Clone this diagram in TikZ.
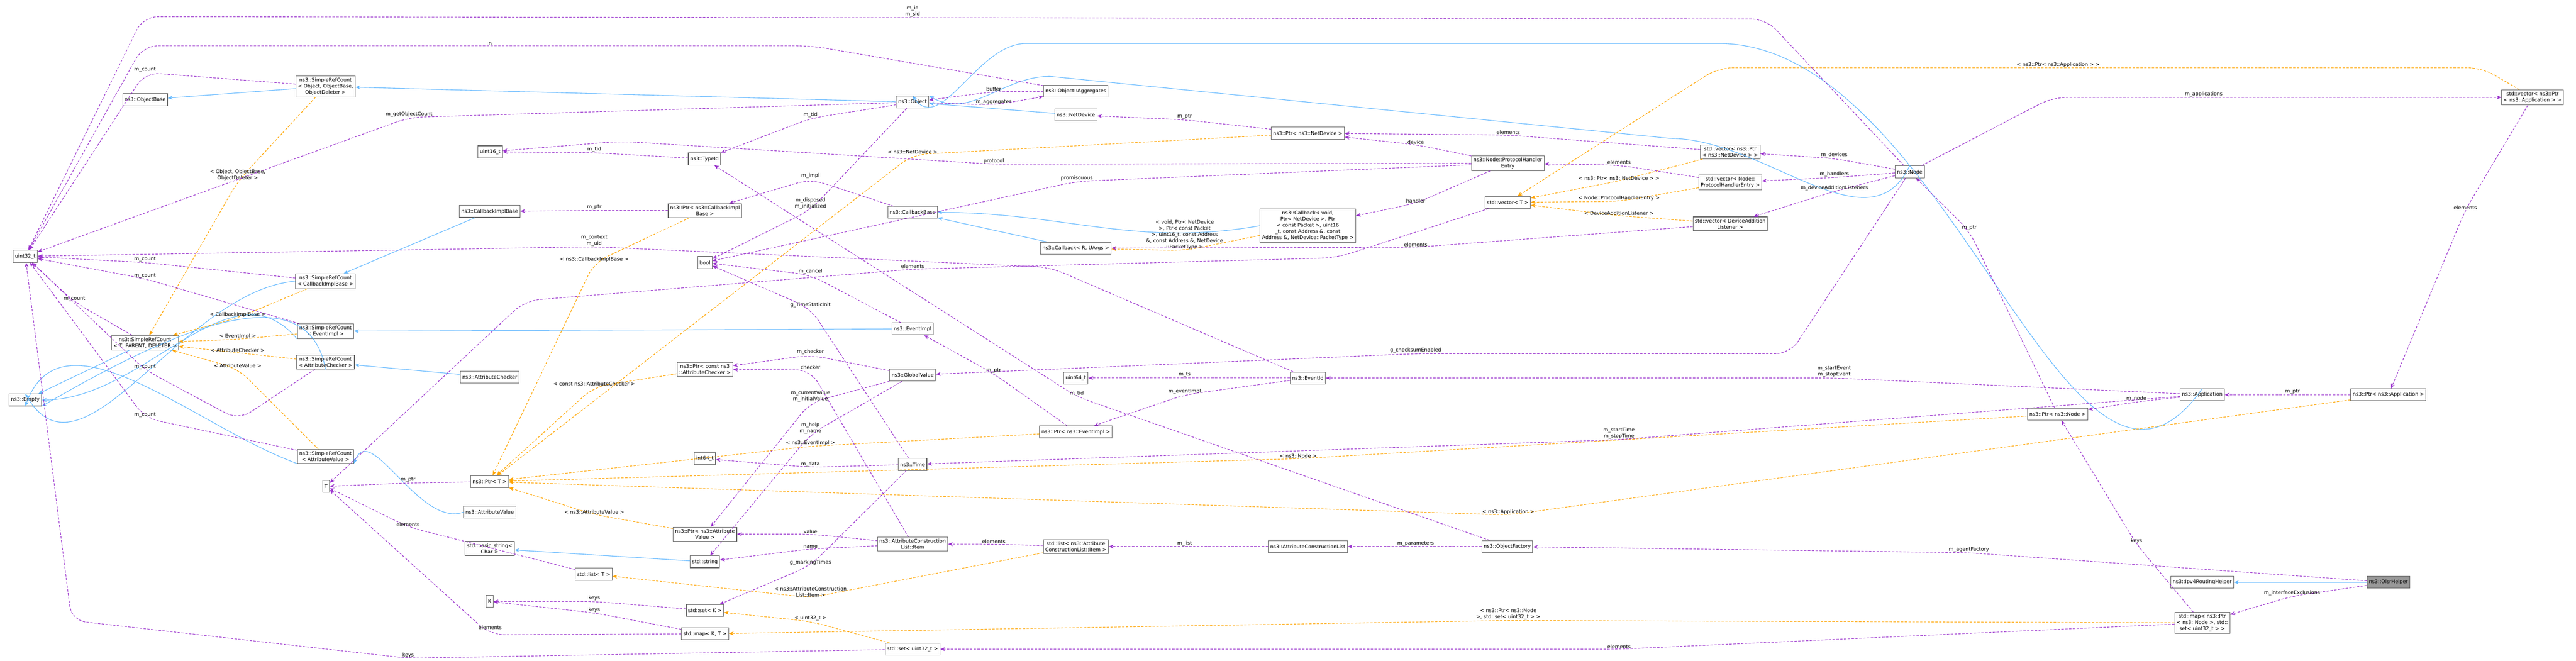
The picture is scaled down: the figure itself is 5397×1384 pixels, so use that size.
\documentclass[tikz,border=0pt]{standalone}
\usepackage{fontspec}
\setmainfont{DejaVu Sans}
\usetikzlibrary{arrows.meta}
\definecolor{usecol}{RGB}{154,50,205}
\definecolor{tplcol}{RGB}{255,165,0}
\definecolor{inhcol}{RGB}{99,184,255}
\tikzset{every picture/.style={line width=1.2pt}}
\tikzset{
  cls/.style={draw=black!60,fill=white,font=\fontsize{10.5}{13}\selectfont,align=center,inner sep=4pt,minimum height=25pt},
  lbl/.style={above,inner sep=1pt,font=\fontsize{10.5}{13}\selectfont,align=center,text=black},
  inh/.style={draw=inhcol,-{Stealth[length=10pt,width=8pt]}},
  usage/.style={draw=usecol,dash pattern=on 5pt off 3pt,rounded corners=30pt,-{Stealth[length=10pt,width=8pt]}},
  tmpl/.style={draw=tplcol,dash pattern=on 5pt off 3pt,rounded corners=30pt,-{Stealth[length=10pt,width=8pt]}}
}
\begin{document}
\begin{tikzpicture}[x=1pt,y=1pt,yscale=-1]
\useasboundingbox (0,0) rectangle (5397,1384);
% classes
\node[cls] (u32) at (53,537) {uint32\_t};
\node[cls] (srcObj) at (682,181) {ns3::SimpleRefCount\\< Object, ObjectBase,\\ ObjectDeleter >};
\node[cls] (objBase) at (304,209) {ns3::ObjectBase};
\node[cls] (u16) at (1027,318) {uint16\_t};
\node[cls] (cbImplBase) at (1026,443) {ns3::CallbackImplBase};
\node[cls] (srcCb) at (682,589) {ns3::SimpleRefCount\\< CallbackImplBase >};
\node[cls] (srcTPD) at (304,718) {ns3::SimpleRefCount\\< T, PARENT, DELETER >};
\node[cls] (srcEv) at (682,694) {ns3::SimpleRefCount\\< EventImpl >};
\node[cls] (srcAc) at (682,759) {ns3::SimpleRefCount\\< AttributeChecker >};
\node[cls] (empty) at (53,838) {ns3::Empty};
\node[cls] (attrChk) at (1026,790) {ns3::AttributeChecker};
\node[cls] (srcAv) at (682,956) {ns3::SimpleRefCount\\< AttributeValue >};
\node[cls] (T) at (683,1019) {T};
\node[cls] (ptrT) at (1026,1009) {ns3::Ptr< T >};
\node[cls] (attrVal) at (1026,1073) {ns3::AttributeValue};
\node[cls] (bstr) at (1026,1149) {std::basic\_string<\\Char >};
\node[cls] (listT) at (1244,1203) {std::list< T >};
\node[cls] (K) at (1026,1260) {K};
\node[cls] (object) at (1912,214) {ns3::Object};
\node[cls] (aggr) at (2254,191) {ns3::Object::Aggregates};
\node[cls] (netDev) at (2254,241) {ns3::NetDevice};
\node[cls] (ptrNd) at (2740,279) {ns3::Ptr< ns3::NetDevice >};
\node[cls] (typeId) at (1476,333) {ns3::TypeId};
\node[cls] (ptrCb) at (1477,441) {ns3::Ptr< ns3::CallbackImpl\\Base >};
\node[cls] (cbBase) at (1912,445) {ns3::CallbackBase};
\node[cls] (cbRU) at (2254,520) {ns3::Callback< R, UArgs >};
\node[cls] (cbVoid) at (2740,473) {ns3::Callback< void,\\ Ptr< NetDevice >, Ptr\\< const Packet >, uint16\\\_t, const Address \&, const\\ Address \&, NetDevice::PacketType >};
\node[cls] (bool) at (1477,550) {bool};
\node[cls] (evImpl) at (1912,689) {ns3::EventImpl};
\node[cls] (ptrCac) at (1477,774) {ns3::Ptr< const ns3\\::AttributeChecker >};
\node[cls] (globVal) at (1912,786) {ns3::GlobalValue};
\node[cls] (u64) at (2254,792) {uint64\_t};
\node[cls] (evId) at (2740,792) {ns3::EventId};
\node[cls] (ptrEv) at (2254,905) {ns3::Ptr< ns3::EventImpl >};
\node[cls] (i64) at (1477,961) {int64\_t};
\node[cls] (time) at (1912,973) {ns3::Time};
\node[cls] (ptrAv) at (1477,1119) {ns3::Ptr< ns3::Attribute\\Value >};
\node[cls] (str) at (1477,1177) {std::string};
\node[cls] (item) at (1912,1140) {ns3::AttributeConstruction\\List::Item};
\node[cls] (listItem) at (2254,1145) {std::list< ns3::Attribute\\ConstructionList::Item >};
\node[cls] (acl) at (2740,1145) {ns3::AttributeConstructionList};
\node[cls] (setK) at (1477,1279) {std::set< K >};
\node[cls] (mapKT) at (1477,1328) {std::map< K, T >};
\node[cls] (setU) at (1912,1360) {std::set< uint32\_t >};
\node[cls] (phe) at (3159,342) {ns3::Node::ProtocolHandler\\Entry};
\node[cls] (vecNd) at (3625,318) {std::vector< ns3::Ptr\\< ns3::NetDevice > >};
\node[cls] (vecPhe) at (3625,382) {std::vector< Node::\\ProtocolHandlerEntry >};
\node[cls] (vecT) at (3159,424) {std::vector< T >};
\node[cls] (vecDal) at (3625,469) {std::vector< DeviceAddition\\Listener >};
\node[cls] (node) at (4001,360) {ns3::Node};
\node[cls] (objFac) at (3158,1145) {ns3::ObjectFactory};
\node[cls] (vecApp) at (5306,204) {std::vector< ns3::Ptr\\< ns3::Application > >};
\node[cls] (app) at (4614,827) {ns3::Application};
\node[cls] (ptrApp) at (5004,827) {ns3::Ptr< ns3::Application >};
\node[cls] (ptrNode) at (4311,868) {ns3::Ptr< ns3::Node >};
\node[cls] (ipv4) at (4614,1220) {ns3::Ipv4RoutingHelper};
\node[cls,fill=black!40] (olsr) at (5004,1220) {ns3::OlsrHelper};
\node[cls] (mapNode) at (4614,1305) {std::map< ns3::Ptr\\< ns3::Node >, std::\\set< uint32\_t > >};

% inheritance
\draw[inh] (srcObj) -- (objBase);
\draw[inh] (object) -- (srcObj);
\draw[inh] (cbImplBase) -- (srcCb);
\draw[inh] (evImpl) -- (srcEv);
\draw[inh] (attrChk) -- (srcAc);
\draw[inh] (attrVal.west) to[out=160,in=-70] (srcAv.south east);
\draw[inh] (srcCb.west) to[out=175,in=60] (empty.north);
\draw[inh] (srcTPD) -- (empty);
\draw[inh] (srcEv.south west) to[out=-130,in=0] (empty.east);
\draw[inh] (srcAc.south) to[out=-100,in=-30] (empty.south east);
\draw[inh] (srcAv.south west) to[out=-160,in=-70] (empty.south);
\draw[inh] (netDev) -- (object);
\draw[inh] (node.north) to[out=115,in=0] (3500,290) -- (2200,160) to[out=180,in=30] (object.north east);
\draw[inh] (app.north) to[out=125,in=0] (3600,91) -- (2150,91) to[out=180,in=55] (object.north);
\draw[inh] (cbRU) -- (cbBase);
\draw[inh] (cbVoid.west) to[out=170,in=0] (cbBase.east);
\draw[inh] (str) -- (bstr);
\draw[inh] (olsr) -- (ipv4);

% template instances
\draw[tmpl] (srcObj) -- (498,380) node[lbl]{< Object, ObjectBase,\\ObjectDeleter >} -- (srcTPD);
\draw[tmpl] (srcCb) -- (498,666) node[lbl]{< CallbackImplBase >} -- (srcTPD);
\draw[tmpl] (srcEv) -- (498,711) node[lbl]{< EventImpl >} -- (srcTPD);
\draw[tmpl] (srcAc) -- (498,739) node[lbl]{< AttributeChecker >} -- (srcTPD);
\draw[tmpl] (srcAv) -- (498,772) node[lbl]{< AttributeValue >} -- (srcTPD);
\draw[tmpl] (ptrCb) -- (1245,550) node[lbl]{< ns3::CallbackImplBase >} -- (ptrT);
\draw[tmpl] (ptrCac) -- (1245,810) node[lbl]{< const ns3::AttributeChecker >} -- (ptrT);
\draw[tmpl] (ptrAv) -- (1245,1078) node[lbl]{< ns3::AttributeValue >} -- (ptrT);
\draw[tmpl] (ptrNd) -- (1912,324) node[lbl]{< ns3::NetDevice >} -- (ptrT);
\draw[tmpl] (ptrEv) -- (1698,935) node[lbl]{< ns3::EventImpl >} -- (ptrT);
\draw[tmpl] (ptrNode) -- (2720,961) node[lbl]{< ns3::Node >} -- (ptrT);
\draw[tmpl] (ptrApp) -- (3160,1079) node[lbl]{< ns3::Application >} -- (ptrT);
\draw[tmpl] (cbVoid) -- (2482,525) node[lbl]{< void, Ptr< NetDevice\\>, Ptr< const Packet\\>, uint16\_t, const Address\\\&, const Address \&, NetDevice\\::PacketType >} -- (cbRU);
\draw[tmpl] (vecNd) -- (3392,379) node[lbl]{< ns3::Ptr< ns3::NetDevice > >} -- (vecT);
\draw[tmpl] (vecPhe) -- (3392,422) node[lbl]{< Node::ProtocolHandlerEntry >} -- (vecT);
\draw[tmpl] (vecDal) -- (3392,452) node[lbl]{< DeviceAdditionListener >} -- (vecT);
\draw[tmpl] (vecApp) -- (5200,142) -- (4312,142) node[lbl]{< ns3::Ptr< ns3::Application > >} -- (3600,142) -- (vecT);
\draw[tmpl] (listItem) -- (1698,1252) node[lbl]{< ns3::AttributeConstruction\\List::Item >} -- (listT);
\draw[tmpl] (setU) -- (1698,1302) node[lbl]{< uint32\_t >} -- (setK);
\draw[tmpl] (mapNode) -- (3160,1300) node[lbl]{< ns3::Ptr< ns3::Node\\>, std::set< uint32\_t > >} -- (mapKT);

% members
\draw[usage] (node) -- (3700,40) -- (1912,37) node[lbl]{m\_id\\m\_sid} -- (300,35) -- (u32);
\draw[usage] (aggr) -- (1700,96) -- (1027,96) node[lbl]{n} -- (300,96) -- (u32);
\draw[usage] (srcObj) -- (304,152) node[lbl]{m\_count} -- (u32);
\draw[usage] (object) -- (857,246) node[lbl]{m\_getObjectCount} -- (u32);
\draw[usage] (evId) -- (2200,560) -- (1245,517) node[lbl]{m\_context\\m\_uid} -- (u32);
\draw[usage] (srcCb) -- (304,550) node[lbl]{m\_count} -- (u32);
\draw[usage] (srcEv) -- (304,584) node[lbl]{m\_count} -- (u32);
\draw[usage] (srcTPD) -- (156,633) node[lbl]{m\_count} -- (u32);
\draw[usage] (srcAc) -- (500,880) -- (304,775) node[lbl]{m\_count} -- (u32);
\draw[usage] (srcAv) -- (304,876) node[lbl]{m\_count} -- (u32);
\draw[usage] (setU) -- (855,1379) node[lbl]{keys} -- (150,1300) -- (u32);
\draw[usage] (typeId) -- (1245,320) node[lbl]{m\_tid} -- (u16);
\draw[usage] (phe) -- (2082,344) node[lbl]{protocol} -- (1300,296) -- (u16);
\draw[usage] (object) -- (1698,248) node[lbl]{m\_tid} -- (typeId);
\draw[usage] (aggr) -- (2082,192) node[lbl]{buffer} -- (object);
\draw[usage] (object) -- (2082,220) node[lbl]{m\_aggregates} -- (aggr);
\draw[usage] (ptrNd) -- (2482,251) node[lbl]{m\_ptr} -- (netDev);
\draw[usage] (vecNd) -- (3160,283) node[lbl]{elements} -- (ptrNd);
\draw[usage] (phe) -- (2966,303) node[lbl]{device} -- (ptrNd);
\draw[usage] (phe) -- (2256,380) node[lbl]{promiscuous} -- (bool);
\draw[usage] (phe) -- (2966,426) node[lbl]{handler} -- (cbVoid);
\draw[usage] (vecPhe) -- (3392,346) node[lbl]{elements} -- (phe);
\draw[usage] (node) -- (3843,332) node[lbl]{m\_devices} -- (vecNd);
\draw[usage] (node) -- (3843,372) node[lbl]{m\_handlers} -- (vecPhe);
\draw[usage] (node) -- (3843,401) node[lbl]{m\_deviceAdditionListeners} -- (vecDal);
\draw[usage] (vecDal) -- (2966,518) node[lbl]{elements} -- (cbRU);
\draw[usage] (vecT) -- (2800,540) -- (1912,564) node[lbl]{elements} -- (1100,630) -- (T);
\draw[usage] (ptrT) -- (855,1012) node[lbl]{m\_ptr} -- (T);
\draw[usage] (ptrCb) -- (1245,441) node[lbl]{m\_ptr} -- (cbImplBase);
\draw[usage] (cbBase) -- (1698,375) node[lbl]{m\_impl} -- (ptrCb);
\draw[usage] (object) -- (1698,440) node[lbl]{m\_disposed\\m\_initialized} -- (bool);
\draw[usage] (evImpl) -- (1698,576) node[lbl]{m\_cancel} -- (bool);
\draw[usage] (time) -- (1698,646) node[lbl]{g\_TimeStaticInit} -- (bool);
\draw[usage] (node) -- (3750,741) -- (2966,741) node[lbl]{g\_checksumEnabled} -- (globVal);
\draw[usage] (globVal) -- (1698,744) node[lbl]{m\_checker} -- (ptrCac);
\draw[usage] (item) -- (1698,775) node[lbl]{checker} -- (ptrCac);
\draw[usage] (globVal) -- (1698,843) node[lbl]{m\_currentValue\\m\_initialValue} -- (ptrAv);
\draw[usage] (globVal) -- (1698,910) node[lbl]{m\_help\\m\_name} -- (str);
\draw[usage] (ptrEv) -- (2082,783) node[lbl]{m\_ptr} -- (evImpl);
\draw[usage] (evId) -- (2482,792) node[lbl]{m\_ts} -- (u64);
\draw[usage] (evId) -- (2482,827) node[lbl]{m\_eventImpl} -- (ptrEv);
\draw[usage] (time) -- (1698,979) node[lbl]{m\_data} -- (i64);
\draw[usage] (objFac) -- (2256,831) node[lbl]{m\_tid} -- (typeId);
\draw[usage] (app) -- (3392,921) node[lbl]{m\_startTime\\m\_stopTime} -- (time);
\draw[usage] (app) -- (3843,792) node[lbl]{m\_startEvent\\m\_stopEvent} -- (evId);
\draw[usage] (app) -- (4476,842) node[lbl]{m\_node} -- (ptrNode);
\draw[usage] (ptrNode) -- (4126,484) node[lbl]{m\_ptr} -- (node);
\draw[usage] (node) -- (4300,204) -- (4617,204) node[lbl]{m\_applications} -- (vecApp);
\draw[usage] (vecApp) -- (5165,440) node[lbl]{elements} -- (ptrApp);
\draw[usage] (ptrApp) -- (4803,827) node[lbl]{m\_ptr} -- (app);
\draw[usage] (item) -- (1698,1119) node[lbl]{value} -- (ptrAv);
\draw[usage] (item) -- (1698,1150) node[lbl]{name} -- (str);
\draw[usage] (time) -- (1698,1185) node[lbl]{g\_markingTimes} -- (setK);
\draw[usage] (listItem) -- (2082,1140) node[lbl]{elements} -- (item);
\draw[usage] (acl) -- (2482,1145) node[lbl]{m\_list} -- (listItem);
\draw[usage] (objFac) -- (2966,1145) node[lbl]{m\_parameters} -- (acl);
\draw[usage] (olsr) -- (4125,1158) node[lbl]{m\_agentFactory} -- (objFac);
\draw[usage] (olsr) -- (4802,1249) node[lbl]{m\_interfaceExclusions} -- (mapNode);
\draw[usage] (mapNode) -- (4476,1140) node[lbl]{keys} -- (ptrNode);
\draw[usage] (mapNode) -- (3392,1360) node[lbl]{elements} -- (setU);
\draw[usage] (setK) -- (1245,1260) node[lbl]{keys} -- (K);
\draw[usage] (mapKT) -- (1245,1284) node[lbl]{keys} -- (K);
\draw[usage] (mapKT) -- (1027,1330) node[above=10pt,lbl]{elements} -- (T);
\draw[usage] (listT) -- (855,1104) node[lbl]{elements} -- (T);
\end{tikzpicture}
\end{document}
